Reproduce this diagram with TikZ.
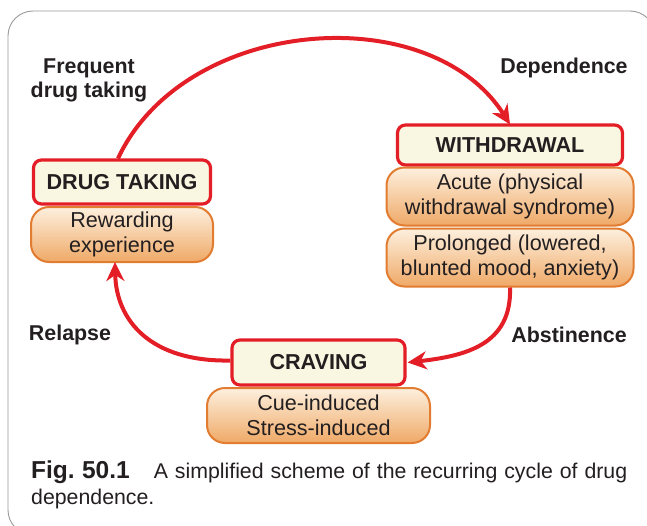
\documentclass[tikz,border=0pt]{standalone}
\usepackage{fontspec}
\setmainfont{Liberation Sans}
\usetikzlibrary{arrows.meta}
\definecolor{redline}{HTML}{E41E26}
\definecolor{creamfill}{HTML}{F9F7E1}
\definecolor{pillborder}{HTML}{E27C30}
\definecolor{pilltop}{HTML}{FDF0DE}
\definecolor{pillmid}{HTML}{F9DDB8}
\definecolor{pillbot}{HTML}{EFA967}
\definecolor{txt}{HTML}{231F20}
\definecolor{framecol}{HTML}{9A9A9A}
\tikzset{
  stagebox/.style={draw=redline, line width=3.2pt, fill=creamfill, rounded corners=8pt,
    inner sep=0pt, font=\fontsize{21.6}{24}\selectfont\bfseries, text=txt},
  pill/.style={draw=pillborder, line width=2pt, rounded corners=18pt, inner sep=0pt,
    top color=pilltop, middle color=pillmid, bottom color=pillbot,
    font=\fontsize{21.6}{24.5}\selectfont, text=txt, align=center},
  lbl/.style={font=\fontsize{21.4}{24}\selectfont\bfseries, text=txt, align=center, inner sep=0pt},
  cyc/.style={draw=redline, line width=4pt, -{Stealth[length=19pt,width=18pt,inset=6pt]}}
}
\begin{document}
\begin{tikzpicture}[x=1pt,y=-1pt]
\useasboundingbox (0,0) rectangle (647,525);
\fill[white] (0,0) rectangle (647,525);
\draw[framecol, line width=0.9pt, rounded corners=25pt] (8,11) rectangle (655,535);

% stage boxes
\node[stagebox, minimum width=177pt, minimum height=44pt] (dt) at (122,182) {DRUG TAKING};
\node[pill, minimum width=182pt, minimum height=55pt] (rw) at (122,234.5) {Rewarding\\experience};
\node[stagebox, minimum width=225pt, minimum height=40pt] (wd) at (510,145) {WITHDRAWAL};
\node[pill, minimum width=247pt, minimum height=58pt] (ac) at (510,196.5) {Acute (physical\\withdrawal syndrome)};
\node[pill, minimum width=247pt, minimum height=58pt] (pl) at (510,257.5) {Prolonged (lowered,\\blunted mood, anxiety)};
\node[stagebox, minimum width=173pt, minimum height=45pt] (cr) at (318.5,362.5) {CRAVING};
\node[pill, minimum width=223pt, minimum height=55pt] (cu) at (318.5,415.5) {Cue-induced\\Stress-induced};

% labels
\node[lbl] (l1) at (89,80) {Frequent\\drug taking};
\node[lbl] (l2) at (564,68) {Dependence};
\node[lbl] (l3) at (70,335) {Relapse};
\node[lbl] (l4) at (569,335) {Abstinence};

% cycle arrows
\draw[cyc] ([xshift=-4pt]dt.north) .. controls (185,16) and (430,-2) .. ([yshift=-1pt]wd.north);
\draw[cyc] (pl.south) .. controls (512,345) and (465,356) .. ([xshift=1pt]cr.east);
\draw[cyc] ([yshift=2pt]cr.west) .. controls (150,362) and (116,320) .. ([xshift=-7pt,yshift=1pt]rw.south);

% caption
\node[anchor=north west, inner sep=0pt, text=txt, font=\fontsize{21.3}{25.5}\selectfont, align=left] (cap) at (31,461)
  {\makebox[596pt][s]{\mbox{\fontsize{24.5}{25.5}\selectfont\bfseries Fig.\hspace{0.3em}50.1}\hspace{24pt}A simplified scheme of the recurring cycle of drug}\\dependence.};
\end{tikzpicture}
\end{document}
